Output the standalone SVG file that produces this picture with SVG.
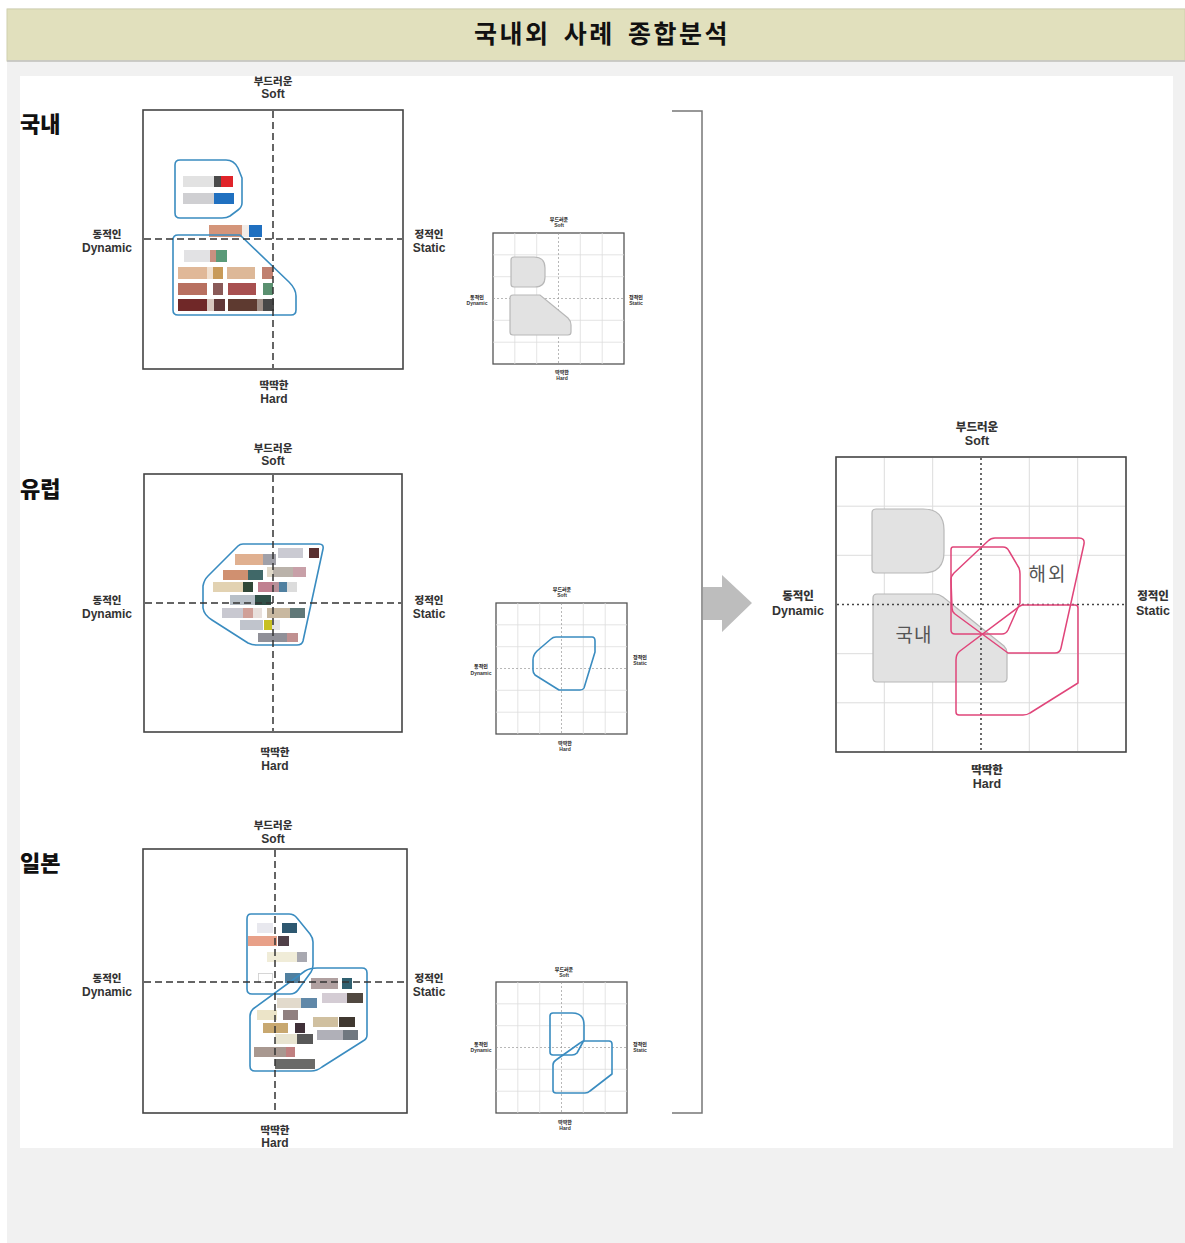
<svg xmlns="http://www.w3.org/2000/svg" width="1185" height="1243" viewBox="0 0 1185 1243">
<style>
.ko{font-family:"Noto Sans CJK KR","Liberation Sans",sans-serif;font-weight:900;fill:#333;text-anchor:middle}
.en{font-family:"Liberation Sans","Noto Sans CJK KR",sans-serif;font-weight:bold;fill:#333;text-anchor:middle}
.lk{font-size:10.5px}.le{font-size:12px}
.bk{font-size:11.5px}.be{font-size:12.5px}
.sk{font-size:5px}.se{font-size:5px}
.side{font-family:"Noto Sans CJK KR",sans-serif;font-weight:900;font-size:22px;fill:#111}
.box{fill:#fff;stroke:#444;stroke-width:1.6}
.sbox{fill:#fff;stroke:#555;stroke-width:1.3}
.axis{stroke:#333;stroke-width:1.5;stroke-dasharray:7,4;fill:none}
.saxis{stroke:#999;stroke-width:0.7;stroke-dasharray:2,2;fill:none}
.baxis{stroke:#444;stroke-width:1.6;stroke-dasharray:2,3;fill:none}
.grid{stroke:#ddd;stroke-width:0.8;fill:none}
.bgrid{stroke:#dcdcdc;stroke-width:1;fill:none}
.blue{fill:none;stroke:#3a8cc0;stroke-width:1.6;stroke-linejoin:round}
.gray{fill:#e2e2e2;stroke:#b8b8b8;stroke-width:1.2}
.pink{fill:none;stroke:#e0457a;stroke-width:1.5;stroke-linejoin:round}
.big{font-family:"Noto Sans CJK KR",sans-serif;font-size:19px;fill:#555;text-anchor:middle}
</style>
<rect x="0" y="0" width="1185" height="1243" fill="#fff"/>
<rect x="7" y="8" width="1178" height="1235" fill="#f1f1f1"/>
<g id="title">
<rect x="7" y="9" width="1178" height="52" fill="#e1e0bd" stroke="#cfcfae" stroke-width="1"/>
<line x1="7" y1="61" x2="1185" y2="61" stroke="#c4c4c4" stroke-width="1.5"/>
<text x="602" y="43" font-family="Noto Sans CJK KR,sans-serif" font-weight="bold" font-size="25" letter-spacing="2.5" word-spacing="5" fill="#111" text-anchor="middle">국내외 사례 종합분석</text>
</g>
<rect x="20" y="76" width="1153" height="1072" fill="#fff"/>

<g id="domestic">
<text class="side" x="20" y="132">국내</text>
<rect class="box" x="143" y="110" width="260" height="259"/>
<rect x="183" y="176" width="31" height="11" fill="#e2e2e2"/><rect x="214" y="176" width="7" height="11" fill="#4a4a4a"/><rect x="221" y="176" width="12" height="11" fill="#e0242a"/>
<rect x="183" y="193" width="31" height="11" fill="#cfcfd2"/><rect x="214" y="193" width="20" height="11" fill="#2070c0"/>
<rect x="209" y="225" width="33" height="12" fill="#d4957a"/><rect x="242" y="225" width="7" height="12" fill="#f2ece8"/><rect x="249" y="225" width="13" height="12" fill="#2070c0"/>
<rect x="184" y="250" width="26" height="12" fill="#e2e2e4"/><rect x="210" y="250" width="6" height="12" fill="#c89080"/><rect x="216" y="250" width="11" height="12" fill="#5a9a78"/>
<rect x="178" y="267" width="29" height="12" fill="#e0b898"/><rect x="207" y="267" width="6" height="12" fill="#f0e0d0"/><rect x="213" y="267" width="10" height="12" fill="#c89a58"/><rect x="227" y="267" width="28" height="12" fill="#ddb898"/><rect x="262" y="267" width="11" height="12" fill="#c08070"/>
<rect x="178" y="283" width="29" height="12" fill="#b87060"/><rect x="213" y="283" width="10" height="12" fill="#8a5a58"/><rect x="228" y="283" width="28" height="12" fill="#a85050"/><rect x="263" y="283" width="10" height="12" fill="#5a9070"/>
<rect x="178" y="299" width="29" height="12" fill="#702828"/><rect x="207" y="299" width="7" height="12" fill="#d8c8c0"/><rect x="214" y="299" width="11" height="12" fill="#603838"/><rect x="228" y="299" width="29" height="12" fill="#5e3a30"/><rect x="257" y="299" width="6" height="12" fill="#a09088"/><rect x="263" y="299" width="11" height="12" fill="#484848"/>
<path class="blue" d="M180,160 L226,160 Q234,160 238,168 L242,178 L242,203 Q242,207 238,210 L230,216 Q227,218 222,218 L180,218 Q175,218 175,213 L175,165 Q175,160 180,160 Z"/>
<path class="blue" d="M178,235 L240,235 L289,282 Q296,289 296,296 L296,310 Q296,315 291,315 L178,315 Q173,315 173,310 L173,240 Q173,235 178,235 Z"/>
<line class="axis" x1="273" y1="111" x2="273" y2="368"/>
<line class="axis" x1="144" y1="239" x2="402" y2="239"/>
<text class="ko lk" x="273" y="85">부드러운</text><text class="en le" x="273" y="98">Soft</text>
<text class="ko lk" x="107" y="238">동적인</text><text class="en le" x="107" y="252">Dynamic</text>
<text class="ko lk" x="429" y="238">정적인</text><text class="en le" x="429" y="252">Static</text>
<text class="ko lk" x="274" y="389">딱딱한</text><text class="en le" x="274" y="403">Hard</text>
</g>

<g id="domestic-small">
<rect class="sbox" x="493" y="233" width="131" height="131"/>
<path class="grid" d="M514.8,233V364M536.7,233V364M580.3,233V364M602.2,233V364M493,254.8H624M493,276.7H624M493,320.3H624M493,342.2H624"/>
<line class="saxis" x1="558.5" y1="233" x2="558.5" y2="364"/><line class="saxis" x1="493" y1="298.5" x2="624" y2="298.5"/>
<path class="gray" d="M514,257 L534,257 Q545,257 545,268 L545,277 Q545,287 535,287 L514,287 Q511,287 511,284 L511,260 Q511,257 514,257 Z"/>
<path class="gray" d="M513,295 L540,295 L568,318 Q571,321 571,325 L571,332 Q571,335 568,335 L513,335 Q510,335 510,332 L510,298 Q510,295 513,295 Z"/>
<text class="ko sk" x="559" y="221">부드러운</text><text class="en se" x="559" y="227">Soft</text>
<text class="ko sk" x="477" y="299">동적인</text><text class="en se" x="477" y="305">Dynamic</text>
<text class="ko sk" x="636" y="299">정적인</text><text class="en se" x="636" y="305">Static</text>
<text class="ko sk" x="562" y="374">딱딱한</text><text class="en se" x="562" y="380">Hard</text>
</g>

<g id="europe">
<text class="side" x="20" y="497">유럽</text>
<rect class="box" x="144" y="474" width="258" height="258"/>
<rect x="278" y="548" width="25" height="10" fill="#cacad2"/><rect x="309" y="548" width="10" height="10" fill="#5a3030"/>
<rect x="235" y="554" width="28" height="11" fill="#e0b090"/><rect x="263" y="554" width="13" height="11" fill="#a0a0a8"/>
<rect x="267" y="567" width="6" height="10" fill="#e0d8c8"/><rect x="273" y="567" width="20" height="10" fill="#bab2aa"/><rect x="293" y="567" width="13" height="10" fill="#c8a0a8"/>
<rect x="223" y="570" width="25" height="10" fill="#d09070"/><rect x="248" y="570" width="15" height="10" fill="#406868"/>
<rect x="213" y="582" width="30" height="10" fill="#e2d2b2"/><rect x="243" y="582" width="10" height="10" fill="#304838"/><rect x="258" y="582" width="15" height="10" fill="#c08090"/><rect x="273" y="582" width="6" height="10" fill="#b89098"/><rect x="279" y="582" width="8" height="10" fill="#5080a0"/><rect x="287" y="582" width="10" height="10" fill="#dcdcdc"/>
<rect x="230" y="595" width="25" height="10" fill="#b8c0c8"/><rect x="255" y="595" width="16" height="10" fill="#305048"/>
<rect x="222" y="608" width="21" height="10" fill="#c8c8d0"/><rect x="243" y="608" width="10" height="10" fill="#d0a098"/><rect x="253" y="608" width="9" height="10" fill="#e8e0dc"/><rect x="267" y="608" width="23" height="10" fill="#c8b8a0"/><rect x="290" y="608" width="15" height="10" fill="#607878"/>
<rect x="240" y="620" width="23" height="10" fill="#c0c4cc"/><rect x="264" y="620" width="8" height="10" fill="#c8c020"/><rect x="272" y="620" width="8" height="10" fill="#e4e4e4"/>
<rect x="258" y="633" width="29" height="9" fill="#909098"/><rect x="287" y="633" width="11" height="9" fill="#c09090"/>
<path class="blue" d="M243,544 L319,544 Q324,544 323,549 L303,641 Q302,645 297,645 L256,645 Q252,645 248,643 L212,620 Q204,615 203,608 L203,586 Q204,580 208,576 L238,546 Q240,544 243,544 Z"/>
<line class="axis" x1="273" y1="475" x2="273" y2="731" stroke="#111" stroke-dasharray="5,3"/>
<line class="axis" x1="145" y1="603" x2="401" y2="603" stroke="#666" stroke-dasharray="6,4"/>
<text class="ko lk" x="273" y="452">부드러운</text><text class="en le" x="273" y="465">Soft</text>
<text class="ko lk" x="107" y="604">동적인</text><text class="en le" x="107" y="618">Dynamic</text>
<text class="ko lk" x="429" y="604">정적인</text><text class="en le" x="429" y="618">Static</text>
<text class="ko lk" x="275" y="756">딱딱한</text><text class="en le" x="275" y="770">Hard</text>
</g>

<g id="europe-small">
<rect class="sbox" x="496" y="603" width="131" height="131"/>
<path class="grid" d="M517.8,603V734M539.7,603V734M583.3,603V734M605.2,603V734M496,624.8H627M496,646.7H627M496,690.3H627M496,712.2H627"/>
<line class="saxis" x1="561.5" y1="603" x2="561.5" y2="734"/><line class="saxis" x1="496" y1="668.5" x2="627" y2="668.5"/>
<path class="blue" d="M556,637 L592,637 Q595,637 595,641 L595,652 L584,688 Q583,690 580,690 L559,690 L535,675 Q533,673 533,670 L533,660 Q533,655 537,651 L551,639 Q553,637 556,637 Z"/>
<text class="ko sk" x="562" y="591">부드러운</text><text class="en se" x="562" y="597">Soft</text>
<text class="ko sk" x="481" y="668">동적인</text><text class="en se" x="481" y="675">Dynamic</text>
<text class="ko sk" x="640" y="659">정적인</text><text class="en se" x="640" y="665">Static</text>
<text class="ko sk" x="565" y="745">딱딱한</text><text class="en se" x="565" y="751">Hard</text>
</g>

<g id="japan">
<text class="side" x="20" y="871">일본</text>
<rect class="box" x="143" y="849" width="264" height="264"/>
<rect x="257" y="923" width="16" height="10" fill="#e8e8ee"/><rect x="282" y="923" width="15" height="10" fill="#2e5870"/>
<rect x="248" y="936" width="29" height="10" fill="#e8a088"/><rect x="278" y="936" width="11" height="10" fill="#504048"/>
<rect x="267" y="952" width="30" height="10" fill="#f0ecd8"/><rect x="297" y="952" width="10" height="10" fill="#a8a8b0"/>
<rect x="258.5" y="973.5" width="14" height="9" fill="#fff" stroke="#ccc" stroke-width="0.8"/><rect x="285" y="973" width="15" height="10" fill="#5080a0"/>
<rect x="311" y="978" width="27" height="11" fill="#b0a0a0"/><rect x="342" y="978" width="10" height="11" fill="#306070"/>
<rect x="322" y="993" width="25" height="10" fill="#d4ccd4"/><rect x="347" y="993" width="16" height="10" fill="#504840"/>
<rect x="277" y="998" width="24" height="10" fill="#e2dacc"/><rect x="301" y="998" width="16" height="10" fill="#6088a8"/>
<rect x="257" y="1010" width="20" height="10" fill="#ece4c8"/><rect x="283" y="1010" width="15" height="10" fill="#908080"/>
<rect x="313" y="1017" width="25" height="10" fill="#d0c0a0"/><rect x="339" y="1017" width="16" height="10" fill="#403830"/>
<rect x="263" y="1023" width="25" height="10" fill="#c8a870"/><rect x="295" y="1023" width="10" height="10" fill="#403038"/>
<rect x="317" y="1030" width="26" height="10" fill="#b0b0b8"/><rect x="343" y="1030" width="15" height="10" fill="#707880"/>
<rect x="275" y="1034" width="22" height="10" fill="#e8e4d0"/><rect x="297" y="1034" width="16" height="10" fill="#585858"/>
<rect x="254" y="1047" width="32" height="10" fill="#a89890"/><rect x="286" y="1047" width="9" height="10" fill="#c08080"/>
<rect x="275" y="1059" width="40" height="10" fill="#6a6a68"/>
<path class="blue" d="M251,914 L289,914 Q294,914 297,918 L310,934 Q313,938 313,942 L313,965 Q313,969 311,972 L298,990 Q295,994 290,994 L252,994 Q247,994 247,989 L247,919 Q247,914 251,914 Z"/>
<path class="blue" d="M317,968 L362,968 Q367,968 367,973 L367,1035 Q367,1039 363,1041 L322,1067 Q317,1071 311,1071 L255,1071 Q250,1071 250,1066 L250,1016 Q250,1012 253,1009 L305,971 Q310,968 317,968 Z"/>
<line class="axis" x1="275" y1="850" x2="275" y2="1112"/>
<line class="axis" x1="144" y1="982" x2="406" y2="982"/>
<text class="ko lk" x="273" y="829">부드러운</text><text class="en le" x="273" y="843">Soft</text>
<text class="ko lk" x="107" y="982">동적인</text><text class="en le" x="107" y="996">Dynamic</text>
<text class="ko lk" x="429" y="982">정적인</text><text class="en le" x="429" y="996">Static</text>
<text class="ko lk" x="275" y="1134">딱딱한</text><text class="en le" x="275" y="1147">Hard</text>
</g>

<g id="japan-small">
<rect class="sbox" x="496" y="982" width="131" height="131"/>
<path class="grid" d="M517.8,982V1113M539.7,982V1113M583.3,982V1113M605.2,982V1113M496,1003.8H627M496,1025.7H627M496,1069.3H627M496,1091.2H627"/>
<line class="saxis" x1="561.5" y1="982" x2="561.5" y2="1113"/><line class="saxis" x1="496" y1="1047.5" x2="627" y2="1047.5"/>
<path class="blue" d="M553,1013 L572,1013 Q584,1013 584,1025 L584,1040 L577,1053 Q575,1055 572,1055 L553,1055 Q550,1055 550,1052 L550,1016 Q550,1013 553,1013 Z"/>
<path class="blue" d="M585,1041 L609,1041 Q612,1041 612,1044 L612,1074 L590,1091 Q588,1093 585,1093 L556,1093 Q553,1093 553,1090 L553,1065 Q553,1062 556,1060 L580,1043 Q582,1041 585,1041 Z"/>
<text class="ko sk" x="564" y="971">부드러운</text><text class="en se" x="564" y="977">Soft</text>
<text class="ko sk" x="481" y="1046">동적인</text><text class="en se" x="481" y="1052">Dynamic</text>
<text class="ko sk" x="640" y="1046">정적인</text><text class="en se" x="640" y="1052">Static</text>
<text class="ko sk" x="565" y="1124">딱딱한</text><text class="en se" x="565" y="1130">Hard</text>
</g>

<g id="connectors">
<path d="M672,111 H702 V1113 H672" fill="none" stroke="#777" stroke-width="1.5"/>
<polygon points="703,587 722,587 722,575 752,603 722,632 722,620 703,620" fill="#bdbdbd"/>
</g>

<g id="combined">
<rect class="box" x="836" y="457" width="290" height="295"/>
<path class="bgrid" d="M884.3,458V751M932.7,458V751M1029.3,458V751M1077.7,458V751M837,506.2H1125M837,555.3H1125M837,653.7H1125M837,702.8H1125"/>
<path class="gray" d="M876,509 L923,509 Q944,509 944,530 L944,552 Q944,573 923,573 L876,573 Q872,573 872,569 L872,513 Q872,509 876,509 Z"/>
<path class="gray" d="M877,594 L935,594 Q939,594 943,597 L1004,646 Q1007,649 1007,653 L1007,678 Q1007,682 1003,682 L877,682 Q873,682 873,678 L873,598 Q873,594 877,594 Z"/>
<line class="baxis" x1="981" y1="458" x2="981" y2="751"/>
<line class="baxis" x1="837" y1="604.5" x2="1125" y2="604.5"/>
<path class="pink" d="M995,538 L1079,538 Q1085,538 1084,544 L1061,648 Q1060,653 1055,653 L1008,653 L955,614 Q952,612 952,608 L951,580 Q951,576 954,573 L988,541 Q991,538 995,538 Z"/>
<path class="pink" d="M953,547 L1003,547 Q1007,547 1009,551 L1019,568 Q1020,571 1020,574 L1020,603 L1008,630 Q1006,634 1002,634 L955,634 Q951,634 951,630 L951,550 Q951,547 953,547 Z"/>
<path class="pink" d="M1022,605 L1075,605 Q1078,605 1078,608 L1078,683 L1030,713 Q1027,715 1023,715 L959,715 Q956,715 956,712 L956,660 Q956,654 960,651 L1020,606 Z"/>
<text class="big" x="1048" y="581" letter-spacing="2">해외</text>
<text class="big" x="914" y="642" letter-spacing="1">국내</text>
<text class="ko bk" x="977" y="431">부드러운</text><text class="en be" x="977" y="445">Soft</text>
<text class="ko bk" x="798" y="600">동적인</text><text class="en be" x="798" y="615">Dynamic</text>
<text class="ko bk" x="1153" y="600">정적인</text><text class="en be" x="1153" y="615">Static</text>
<text class="ko bk" x="987" y="774">딱딱한</text><text class="en be" x="987" y="788">Hard</text>
</g>
</svg>
